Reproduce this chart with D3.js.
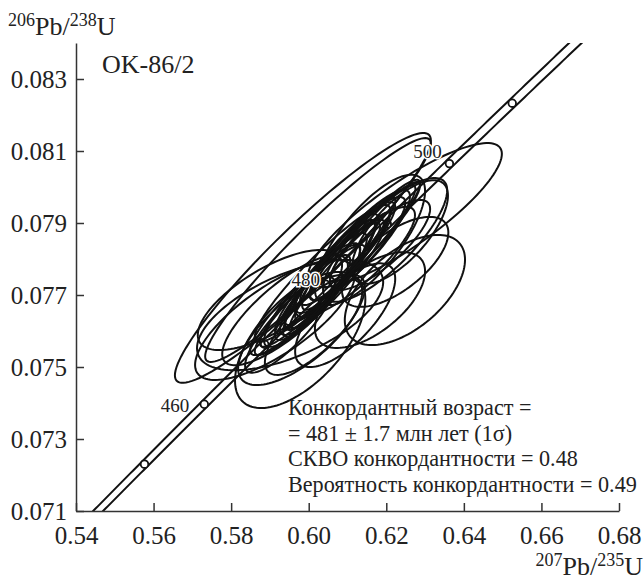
<!DOCTYPE html>
<html>
<head>
<meta charset="utf-8">
<script src="https://d3js.org/d3.v7.min.js"></script>
<style>
  body { margin: 0; background: #fff; }
  svg text { font-family: "Times New Roman", Times, "Liberation Serif", Tinos, "DejaVu Serif", FreeSerif, serif; fill: #222; }
</style>
</head>
<body>
<div id="chart"></div>
<script>
// ticks
var xTicks = [0.54, 0.56, 0.58, 0.60, 0.62, 0.64, 0.66, 0.68];
var yTicks = [0.071, 0.073, 0.075, 0.077, 0.079, 0.081, 0.083];

// error ellipses: 207Pb/235U, 206Pb/238U, half-widths and correlation
var ellX = [0.5985, 0.6024, 0.6248, 0.6248, 0.6197, 0.6158, 0.6235, 0.6223, 0.5952, 0.5913,
            0.5978, 0.6016, 0.6094, 0.6158, 0.5978, 0.6055, 0.6068, 0.6042, 0.6081, 0.6029,
            0.6094, 0.6055, 0.6107, 0.6009, 0.6132, 0.5939, 0.5900,
            0.6068, 0.6107, 0.6029, 0.6145, 0.6003, 0.6081, 0.6171, 0.5978, 0.6119, 0.6042,
            0.5952, 0.6184];
var ellY = [0.07803, 0.07825, 0.07922, 0.07714, 0.07853, 0.07853, 0.07875, 0.07792, 0.07644, 0.07631,
            0.07603, 0.07617, 0.07644, 0.07686, 0.07575, 0.07756, 0.07769, 0.07728, 0.07792, 0.07714,
            0.07811, 0.07742, 0.07811, 0.07700, 0.07839, 0.07658, 0.07686,
            0.07783, 0.07811, 0.07728, 0.07853, 0.07686, 0.07769, 0.07875, 0.07672, 0.07792, 0.07764,
            0.07617, 0.07839];
var ellSX = [0.0330, 0.0291, 0.0250, 0.0155, 0.0160, 0.0142, 0.0124, 0.0137, 0.0240, 0.0206,
             0.0160, 0.0129, 0.0129, 0.0142, 0.0168, 0.0116, 0.0103, 0.0108, 0.0098, 0.0103,
             0.0116, 0.0142, 0.0142, 0.0124, 0.0129, 0.0162, 0.0186,
             0.0155, 0.0168, 0.0155, 0.0142, 0.0142, 0.0129, 0.0116, 0.0129, 0.0155, 0.0181,
             0.0116, 0.0129];
var ellSY = [0.00347, 0.00311, 0.00200, 0.00153, 0.00172, 0.00181, 0.00144, 0.00125, 0.00153, 0.00167,
             0.00153, 0.00139, 0.00144, 0.00133, 0.00189, 0.00153, 0.00139, 0.00144, 0.00133, 0.00125,
             0.00139, 0.00167, 0.00161, 0.00144, 0.00153, 0.00153, 0.00139,
             0.00189, 0.00194, 0.00172, 0.00167, 0.00153, 0.00161, 0.00139, 0.00139, 0.00153, 0.00194,
             0.00133, 0.00125];
var ellRho = [0.94, 0.95, 0.85, 0.55, 0.80, 0.75, 0.70, 0.65, 0.60, 0.75,
              0.70, 0.75, 0.70, 0.60, 0.60, 0.90, 0.92, 0.90, 0.90, 0.88,
              0.90, 0.92, 0.90, 0.88, 0.88, 0.80, 0.70,
              0.95, 0.95, 0.94, 0.94, 0.93, 0.96, 0.93, 0.90, 0.85, 0.93,
              0.85, 0.80];

// concordia age marks (Ma) and which get a label
var markAges = [450, 460, 470, 480, 490, 500, 510];
var labelAges = [460, 480, 500];

// decay constants (1/yr) and band half-width on lambda235
var LAMBDA238 = 1.55125e-10, LAMBDA235 = 9.8485e-10, LAMBDA235_ERR = 0.0019;

var notes = ["Конкордантный возраст =",
             "= 481 \u00b1 1.7 млн лет (1\u03c3)",
             "СКВО конкордантности = 0.48",
             "Вероятность конкордантности = 0.49"];

(function(){
    var W = 644, H = 581;
    var svg = d3.select("#chart").append("svg")
        .attr("width", W).attr("height", H);

    var x = d3.scaleLinear().domain([0.54, 0.68]).range([76, 619]);
    var y = d3.scaleLinear().domain([0.071, 0.084]).range([511, 43]);

    svg.append("clipPath").attr("id", "plot")
        .append("rect")
        .attr("x", x(0.54)).attr("y", y(0.084))
        .attr("width", x(0.68) - x(0.54)).attr("height", y(0.071) - y(0.084));

    var line = d3.line().x(function(d){ return x(d[0]); }).y(function(d){ return y(d[1]); });

    // concordia point for an age in Ma
    function conc(t, k) {
        var yr = t * 1e6;
        return [Math.exp(LAMBDA235 * k * yr) - 1, Math.exp(LAMBDA238 * yr) - 1];
    }

    var g = svg.append("g").attr("clip-path", "url(#plot)");

    // concordia band: two lines
    [1 - LAMBDA235_ERR, 1 + LAMBDA235_ERR].forEach(function(k){
        var pts = d3.range(430, 530.1, 0.5).map(function(t){ return conc(t, k); });
        g.append("path").attr("d", line(pts))
            .attr("fill", "none").attr("stroke", "#111").attr("stroke-width", 2);
    });

    g.selectAll("circle.mark").data(markAges).enter().append("circle")
        .attr("class", "mark")
        .attr("cx", function(d){ return x(conc(d, 1)[0]); })
        .attr("cy", function(d){ return y(conc(d, 1)[1]); })
        .attr("r", 3.8)
        .attr("fill", "#fff").attr("stroke", "#111").attr("stroke-width", 1.8);

    // ellipses
    var ells = ellX.map(function(cx, i){
        var sx = ellSX[i], sy = ellSY[i], r = ellRho[i], q = Math.sqrt(1 - r * r);
        return d3.range(0, 121).map(function(j){
            var a = j / 120 * 2 * Math.PI;
            return [cx + sx * Math.cos(a), ellY[i] + sy * (r * Math.cos(a) + q * Math.sin(a))];
        });
    });
    g.selectAll("path.ell").data(ells).enter().append("path")
        .attr("class", "ell")
        .attr("d", function(d){ return line(d) + "Z"; })
        .attr("fill", "none").attr("stroke", "#111").attr("stroke-width", 2);

    // age labels
    var labelOff = {460: [-15, 8, "end"], 480: [-20, 2, "middle"], 500: [-22, -6, "middle"]};
    labelAges.forEach(function(t){
        var p = conc(t, 1), o = labelOff[t];
        svg.append("text")
            .attr("x", x(p[0]) + o[0]).attr("y", y(p[1]) + o[1])
            .attr("text-anchor", o[2])
            .attr("font-size", 19)
            .attr("stroke", "#fff").attr("stroke-width", 3).attr("paint-order", "stroke")
            .text(t);
    });

    // axes
    var xAxis = d3.axisBottom(x).tickValues(xTicks).tickSize(-8).tickSizeOuter(0)
        .tickFormat(d3.format(".2f"));
    var yAxis = d3.axisLeft(y).tickValues(yTicks).tickSize(-8).tickSizeOuter(0)
        .tickFormat(d3.format(".3f"));

    var gx = svg.append("g").attr("transform", "translate(0," + y(0.071) + ")").call(xAxis);
    var gy = svg.append("g").attr("transform", "translate(" + x(0.54) + ",0)").call(yAxis);
    [gx, gy].forEach(function(a){
        a.attr("font-family", null).attr("font-size", null);
        a.select(".domain").attr("stroke", "#333").attr("stroke-width", 1.5);
        a.selectAll(".tick line").attr("stroke", "#333").attr("stroke-width", 1.5);
        a.selectAll(".tick text").attr("font-size", 25).attr("fill", "#222");
    });
    gy.selectAll(".tick text").attr("x", -9);
    gx.selectAll(".tick text").attr("y", 33).attr("dy", null);

    // axis titles
    var yt = svg.append("text").attr("x", 8).attr("y", 35).attr("font-size", 26);
    yt.append("tspan").attr("font-size", 18).attr("dy", -9).text("206");
    yt.append("tspan").attr("dy", 9).text("Pb/");
    yt.append("tspan").attr("font-size", 18).attr("dy", -9).text("238");
    yt.append("tspan").attr("dy", 9).text("U");

    var xt = svg.append("text").attr("x", 643).attr("y", 575).attr("font-size", 26)
        .attr("text-anchor", "end");
    xt.append("tspan").attr("font-size", 18).attr("dy", -9).text("207");
    xt.append("tspan").attr("dy", 9).text("Pb/");
    xt.append("tspan").attr("font-size", 18).attr("dy", -9).text("235");
    xt.append("tspan").attr("dy", 9).text("U");

    svg.append("text").attr("x", 102).attr("y", 73).attr("font-size", 26).text("OK-86/2");

    var nt = svg.selectAll("text.note").data(notes).enter().append("text")
        .attr("class", "note")
        .attr("x", 288)
        .attr("y", function(d, i){ return 415 + i * 25.7; })
        .attr("font-size", 20)
        .text(function(d){ return d; });
    // fit the longest line to the width seen in the figure
    var longest = nt.nodes()[3].getComputedTextLength();
    nt.attr("font-size", 20 * 349 / longest);
})();
</script>
</body>
</html>
